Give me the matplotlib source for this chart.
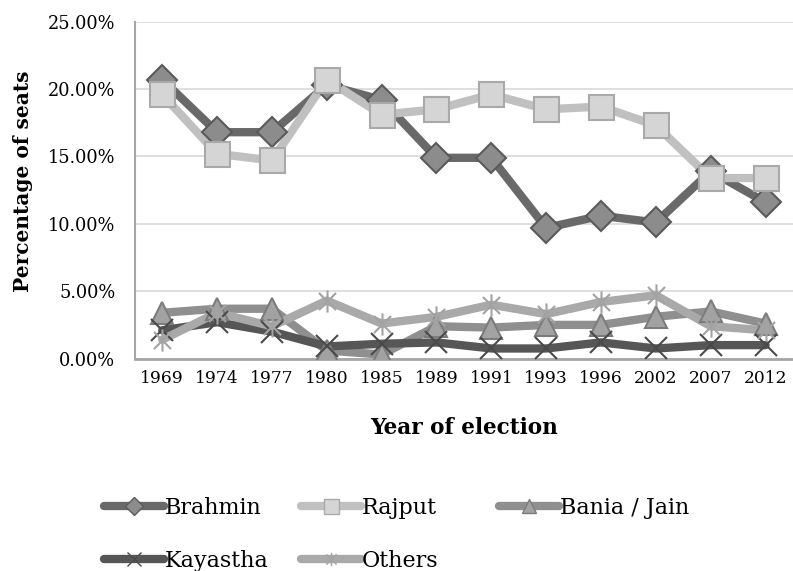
import matplotlib
matplotlib.use("Agg")
import matplotlib.pyplot as plt
import numpy as np
from matplotlib.path import Path
from matplotlib.ticker import FuncFormatter

# 选举年份（类别轴）
years = ["1969", "1974", "1977", "1980", "1985", "1989",
         "1991", "1993", "1996", "2002", "2007", "2012"]

# 各种姓所占席位百分比
brahmin = [20.7, 16.8, 16.8, 20.3, 19.2, 14.9, 14.9, 9.7, 10.6, 10.1, 13.9, 11.6]
rajput = [19.6, 15.2, 14.7, 20.7, 18.1, 18.5, 19.6, 18.5, 18.7, 17.3, 13.4, 13.4]
bania = [3.4, 3.7, 3.7, 0.6, 0.3, 2.4, 2.3, 2.5, 2.5, 3.1, 3.5, 2.6]
kayastha = [2.1, 2.7, 2.0, 0.9, 1.1, 1.2, 0.75, 0.75, 1.2, 0.75, 1.0, 1.0]
others = [1.4, 3.4, 2.4, 4.3, 2.6, 3.1, 4.0, 3.3, 4.2, 4.7, 2.4, 2.1]

yticks = [0, 5, 10, 15, 20, 25]

SERIF = ["DejaVu Serif"]

# Excel 风格的星号标记：X 加一条竖线
_star = Path(
    [(-1, -1), (1, 1), (-1, 1), (1, -1), (0, -1.3), (0, 1.3)],
    [Path.MOVETO, Path.LINETO, Path.MOVETO, Path.LINETO, Path.MOVETO, Path.LINETO],
)

series = [
    # label, values, line colour, marker, face, edge, marker size
    ("Brahmin", brahmin, "#696969", "D", "#8c8c8c", "#5a5a5a", 15),
    ("Rajput", rajput, "#c0c0c0", "s", "#d5d5d5", "#a9a9a9", 18),
    ("Bania / Jain", bania, "#8f8f8f", "^", "#a2a2a2", "#7c7c7c", 16),
    ("Kayastha", kayastha, "#565656", "x", "#565656", "#4a4a4a", 16),
    ("Others", others, "#a9a9a9", _star, "#a9a9a9", "#a3a3a3", 16),
]

fig = plt.figure(figsize=(7.93, 5.71), dpi=100)
ax = fig.add_axes([0.170, 0.372, 0.830, 0.590])

x = np.arange(len(years))
handles = {}
for label, vals, lc, mk, fc, ec, ms in series:
    ax.plot(x, vals, color=lc, lw=6, solid_joinstyle="miter", solid_capstyle="round",
            zorder=2)
    ax.plot(x, vals, ls="none", marker=mk, ms=ms, mfc=fc, mec=ec, mew=1.5, zorder=3)
    handles[label] = ax.plot([], [], color=lc, lw=6, solid_capstyle="round",
                             marker=mk, ms=ms * 0.6, mfc=fc, mec=ec, mew=1.0)[0]

ax.set_xlim(-0.5, len(years) - 0.5)
ax.set_ylim(0, 25)
ax.set_xticks(x)
ax.set_xticklabels(years, family=SERIF, fontsize=12.3)
ax.set_yticks(yticks)
ax.yaxis.set_major_formatter(FuncFormatter(lambda v, _: f"{v:.2f}%"))
for t in ax.get_yticklabels():
    t.set_family(SERIF)
    t.set_fontsize(12.8)
ax.tick_params(axis="both", length=0, pad=8)
ax.tick_params(axis="y", pad=14)
ax.grid(axis="y", color="#d9d9d9", lw=1.2)
ax.set_axisbelow(True)
for s in ("top", "right"):
    ax.spines[s].set_visible(False)
ax.spines["left"].set_color("#a6a6a6")
ax.spines["left"].set_linewidth(1.5)
ax.spines["bottom"].set_color("#a6a6a6")
ax.spines["bottom"].set_linewidth(2)

ax.set_ylabel("Percentage of seats", family=SERIF, fontweight="bold", fontsize=14.5)
ax.yaxis.set_label_coords(-0.155, 0.527)
ax.set_xlabel("Year of election", family=SERIF, fontweight="bold", fontsize=15.5,
              labelpad=22)

# 图例：Excel 式等宽列，逐项摆放（列起点 / 行中心，单位像素）
legend_slots = {
    "Brahmin": (104, 508), "Rajput": (301, 508), "Bania / Jain": (499, 508),
    "Kayastha": (104, 561), "Others": (301, 561),
}
W, H = 793, 571
for label, (px, py) in legend_slots.items():
    fig.legend([handles[label]], [label], frameon=False, loc="center left",
               bbox_to_anchor=(px / W, 1 - py / H), borderaxespad=0, borderpad=0,
               prop={"family": SERIF, "size": 16}, handlelength=2.7,
               handletextpad=0.05)

fig.savefig("out.png", dpi=100)
